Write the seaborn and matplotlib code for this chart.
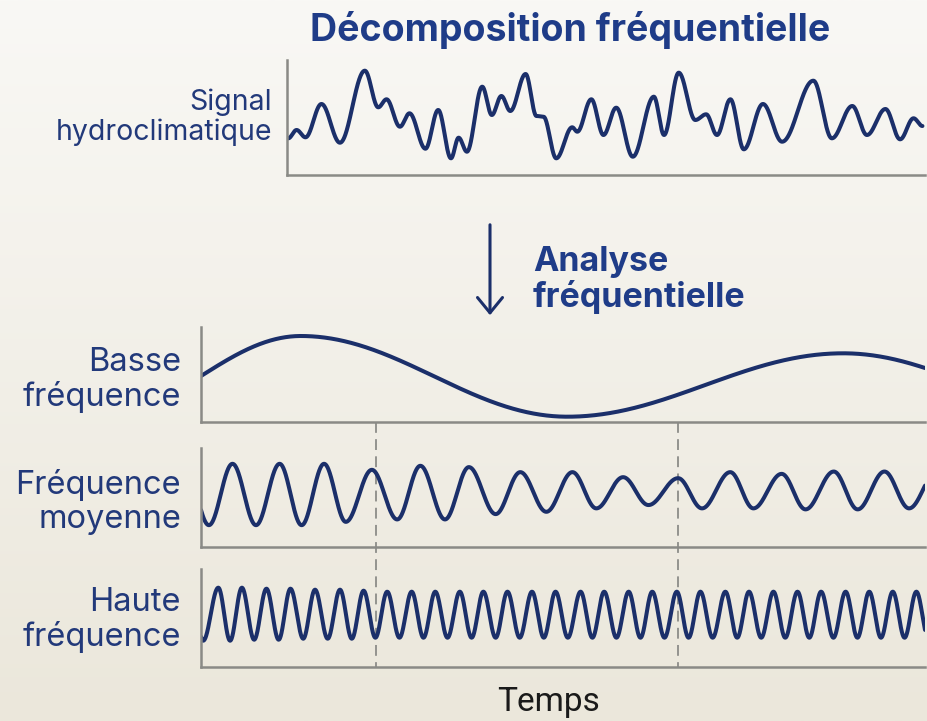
import numpy as np
import matplotlib
matplotlib.use("Agg")
import matplotlib.pyplot as plt
import matplotlib.transforms as mtransforms
import seaborn as sns

# ---------------------------------------------------------------------------
# Signal extrema (time in % of the record, amplitude in arbitrary units)
# ---------------------------------------------------------------------------
signal_t = [0.2, 1.5, 2.9, 5.4, 8.3, 12.2, 14.3, 15.6, 17.7, 19.2,
            21.7, 23.7, 25.7, 26.9, 28.2, 30.6, 32.1, 33.6, 35.0, 37.4,
            39.1, 40.2, 42.2, 44.7, 45.5, 47.7, 49.6, 51.6, 54.2, 57.5,
            59.1, 61.4, 64.0, 65.7, 67.4, 69.5, 71.6, 74.6, 77.6, 82.5,
            85.4, 88.6, 90.9, 93.8, 96.1, 98.2, 99.6]
signal_v = [-2.03, -1.2, -1.93, 1.4, -2.47, 4.73, 1.07, 1.87, -0.87, 0.47,
            -3.07, 0.8, -4.03, -1.97, -3.37, 3.13, 0.3, 2.2, 0.7, 4.4,
            0.2, 0.13, -4.03, -0.93, -1.37, 1.87, -1.7, 1.03, -3.87, 2.13,
            -1.7, 4.53, -0.2, 0.37, -1.7, 1.87, -3.13, 1.4, -2.37, 3.73,
            -2.03, 1.2, -1.7, 0.9, -2.13, -0.03, -0.8]

# Low-frequency component
low_t = [-13.8, 13.8, 50.6, 88.7, 123.8]
low_v = [-4.0, 4.0, -4.07, 2.27, -4.0]

# Mid-frequency component
mid_t = [-2.2, 1.09, 4.35, 7.6, 10.86, 13.9, 17.0, 20.0, 23.6, 27.1,
         30.3, 33.7, 37.0, 40.7, 44.1, 47.7, 51.3, 54.6, 58.3, 61.8,
         65.9, 69.2, 73.1, 76.3, 80.2, 83.5, 87.4, 90.7, 94.4, 97.8,
         101.6]
mid_v = [3.0, -3.1, 3.0, -3.1, 3.0, -3.1, 3.0, -2.77, 2.4, -2.53,
         2.8, -2.53, 2.67, -2.0, 2.17, -1.77, 2.17, -1.43, 1.67, -1.1,
         1.57, -1.43, 2.17, -1.43, 2.0, -1.53, 2.23, -1.53, 2.23, -1.43,
         2.2]

# High-frequency component
high_t = [-1.4, 0.3, 2.39, 4.02, 5.65, 7.34, 9.04, 10.73, 12.36, 14.12,
          15.75, 17.5, 19.2, 20.83, 22.46, 24.09, 25.72, 27.41, 29.1, 30.73,
          32.36, 34.05, 35.75, 37.38, 39.0, 40.7, 42.33, 44.02, 45.72, 47.35,
          48.97, 50.67, 52.43, 54.06, 55.69, 57.38, 59.07, 60.7, 62.33, 64.02,
          65.72, 67.35, 68.98, 70.67, 72.43, 74.06, 75.69, 77.38, 79.07, 80.7,
          82.39, 84.02, 85.65, 87.35, 89.04, 90.67, 92.3, 93.92, 95.55, 97.18,
          98.81, 100.44]
high_v = [2.6, -2.7, 2.6, -2.7, 2.6, -2.6, 2.5, -2.6, 2.5, -2.5,
          2.4, -2.5, 2.4, -2.5, 2.3, -2.4, 2.2, -2.4, 2.2, -2.4,
          2.2, -2.4, 2.2, -2.4, 2.2, -2.4, 2.2, -2.4, 2.2, -2.4,
          2.2, -2.4, 2.2, -2.4, 2.2, -2.4, 2.2, -2.4, 2.2, -2.4,
          2.2, -2.4, 2.2, -2.4, 2.2, -2.4, 2.2, -2.4, 2.2, -2.4,
          2.2, -2.4, 2.2, -2.4, 2.2, -2.4, 2.2, -2.4, 2.2, -2.4,
          2.2, -2.4]

# Reference instants marked across the components
event_times = [24.2, 65.9]

title_text = "Décomposition fréquentielle"
signal_label = "Signal\nhydroclimatique"
arrow_label = "Analyse\nfréquentielle"
component_labels = ["Basse\nfréquence", "Fréquence\nmoyenne", "Haute\nfréquence"]
time_label = "Temps"

# ---------------------------------------------------------------------------
W, H = 928, 721
NAVY = "#1f3c88"
LABEL = "#22397a"
LINE = "#1b2f6a"
SPINE = "#8a8a86"

sns.set_theme(style="white")
plt.rcParams["font.family"] = ["Inter", "DejaVu Sans"]


def frac(x, y):
    return x / W, 1 - y / H


def box(x0, y0, x1, y1):
    """Axes rectangle from pixel corners (top-left origin)."""
    return [x0 / W, 1 - y1 / H, (x1 - x0) / W, (y1 - y0) / H]


def through_extrema(t_ext, v_ext, lo, hi, n=3000):
    """Smooth curve passing through successive extrema with flat turning points."""
    t_ext = np.asarray(t_ext, float)
    v_ext = np.asarray(v_ext, float)
    t = np.linspace(max(lo, t_ext[0]), min(hi, t_ext[-1]), n)
    k = np.clip(np.searchsorted(t_ext, t, side="right") - 1, 0, len(t_ext) - 2)
    s = (t - t_ext[k]) / (t_ext[k + 1] - t_ext[k])
    v = v_ext[k] + (v_ext[k + 1] - v_ext[k]) * (1 - np.cos(np.pi * s)) / 2
    return t, v


def style_axes(ax, ylim):
    ax.set_facecolor("none")
    ax.set_xlim(0, 100)
    ax.set_ylim(*ylim)
    ax.set_xticks([])
    ax.set_yticks([])
    ax.set_xlabel("")
    ax.set_ylabel("")
    for side in ("top", "right"):
        ax.spines[side].set_visible(False)
    for side in ("left", "bottom"):
        ax.spines[side].set_color(SPINE)
        ax.spines[side].set_linewidth(1.8)


fig = plt.figure(figsize=(W / 100, H / 100), dpi=100)

# Background: soft vertical cream gradient
bg = fig.add_axes([0, 0, 1, 1], zorder=-10)
top_c = np.array([249, 248, 245]) / 255
bot_c = np.array([235, 231, 219]) / 255
g = np.linspace(0, 1, 256)[:, None, None]
bg.imshow(top_c + (bot_c - top_c) * g, aspect="auto", extent=[0, 1, 0, 1])
bg.axis("off")

# Composite signal
ax_sig = fig.add_axes(box(287, 60, 925, 175))
t, v = through_extrema(signal_t, signal_v, 0, 100)
sns.lineplot(x=t, y=v, ax=ax_sig, color=LINE, linewidth=2.9,
             estimator=None, sort=False)
style_axes(ax_sig, (-5.7, 5.8))

# Components
comp_boxes = [(201, 327, 925, 422), (201, 448, 925, 547), (201, 569, 925, 667)]
comp_data = [(low_t, low_v, (-4.6, 4.9)),
             (mid_t, mid_v, (-5.27, 4.57)),
             (high_t, high_v, (-5.33, 4.47))]
comp_axes = []
for (x0, y0, x1, y1), (ct, cv, ylim) in zip(comp_boxes, comp_data):
    ax = fig.add_axes(box(x0, y0, x1, y1))
    t, v = through_extrema(ct, cv, 0, 100)
    sns.lineplot(x=t, y=v, ax=ax, color=LINE, linewidth=2.9,
                 estimator=None, sort=False)
    style_axes(ax, ylim)
    comp_axes.append(ax)

# Dashed reference instants running down through the mid and high panels
y_top = 1 - 422 / H
y_bot = 1 - 667 / H
trans = mtransforms.blended_transform_factory(comp_axes[-1].transData, fig.transFigure)
for te in event_times:
    fig.add_artist(plt.Line2D([te, te], [y_top, y_bot], transform=trans,
                              color="#8c8c88", linewidth=1.3,
                              linestyle=(0, (6, 3.5)), zorder=0))

# Texts
fig.text(*frac(570, 30), title_text, ha="center", va="center",
         fontsize=27, fontweight="bold", color=NAVY)
fig.text(*frac(272, 117), signal_label, ha="right", va="center",
         fontsize=20.5, color=LABEL, linespacing=1.12)
label_centers = [380, 502, 620]
for lab, yc in zip(component_labels, label_centers):
    fig.text(*frac(181, yc), lab, ha="right", va="center",
             fontsize=23.5, color=LABEL, linespacing=1.15)
fig.text(*frac(533, 280), arrow_label, ha="left", va="center",
         fontsize=24.5, fontweight="bold", color=NAVY, linespacing=1.08)
fig.text(*frac(548, 702), time_label, ha="center", va="center",
         fontsize=24, color="#1a1a1a", family=["Roboto", "DejaVu Sans"])

# Down arrow
fig.add_artist(matplotlib.patches.FancyArrowPatch(
    frac(490, 222), frac(490, 318), transform=fig.transFigure,
    arrowstyle="->,head_length=0.55,head_width=0.45", mutation_scale=20,
    color=LINE, linewidth=2.2))

fig.savefig("out.png", dpi=100)
